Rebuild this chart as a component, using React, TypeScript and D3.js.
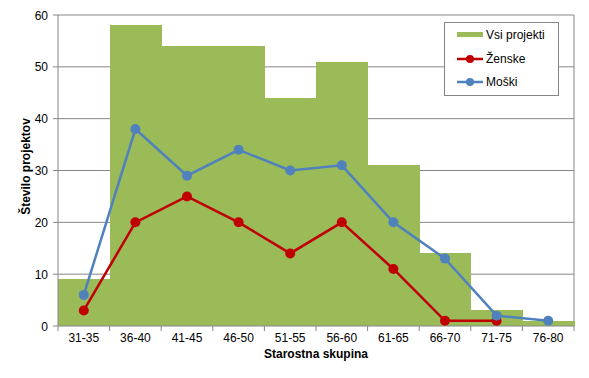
import React from "react";
import * as d3 from "d3";

const categories = ["31-35", "36-40", "41-45", "46-50", "51-55", "56-60", "61-65", "66-70", "71-75", "76-80"];
const vsi = [9, 58, 54, 54, 44, 51, 31, 14, 3, 1];
const zenske: (number | null)[] = [3, 20, 25, 20, 14, 20, 11, 1, 1, null];
const moski = [6, 38, 29, 34, 30, 31, 20, 13, 2, 1];
const yTicks = [0, 10, 20, 30, 40, 50, 60];

const W = 589, H = 378;
const L = 58, R = 574, T = 15, B = 326;
const font = "'Liberation Sans', Arial, sans-serif";

export default function App() {
  const x = d3.scaleBand<string>().domain(categories).range([L, R]).padding(0);
  const y = d3.scaleLinear().domain([0, 60]).range([B, T]);
  const cx = (c: string) => (x(c) as number) + x.bandwidth() / 2;
  const line = d3
    .line<number | null>()
    .defined((d) => d != null)
    .x((_, i) => cx(categories[i]))
    .y((d) => y(d as number));
  const green = "#9BBB59", red = "#C00000", blue = "#4F81BD", grid = "#868686";
  return (
    <svg width={W} height={H} style={{ position: "absolute", left: 0, top: 0 }}>
      <rect x={0} y={0} width={W} height={H} fill="#fff" />
      {yTicks.map((t) => (
        <g key={t}>
          {t > 0 && <line x1={L} x2={R} y1={y(t)} y2={y(t)} stroke={grid} strokeWidth={1} />}
          <line x1={L - 5} x2={L} y1={y(t)} y2={y(t)} stroke={grid} />
          <text x={L - 10} y={y(t) + 4.5} fontSize={12} textAnchor="end" fontFamily={font} fill="#000">{t}</text>
        </g>
      ))}
      <line x1={R} x2={R} y1={T} y2={B} stroke={grid} />
      <g shapeRendering="crispEdges">
        {categories.map((c, i) => (
          <rect key={c} x={x(c)} y={y(vsi[i])} width={x.bandwidth() + 0.5} height={B - y(vsi[i])} fill={green} />
        ))}
      </g>
      <line x1={L} x2={L} y1={T} y2={B} stroke={grid} />
      <line x1={L} x2={R} y1={B} y2={B} stroke={grid} />
      {categories.map((c, i) => (
        <line key={"t" + i} x1={x(c)} x2={x(c)} y1={B} y2={B + 5} stroke={grid} />
      ))}
      <line x1={R} x2={R} y1={B} y2={B + 5} stroke={grid} />
      {categories.map((c) => (
        <text key={"l" + c} x={cx(c)} y={B + 16} fontSize={12} textAnchor="middle" fontFamily={font}>{c}</text>
      ))}
      <path d={line(zenske) || ""} fill="none" stroke={red} strokeWidth={2.5} />
      {zenske.map((v, i) => v != null && <circle key={"z" + i} cx={cx(categories[i])} cy={y(v)} r={5} fill={red} />)}
      <path d={line(moski) || ""} fill="none" stroke={blue} strokeWidth={2.5} />
      {moski.map((v, i) => <circle key={"m" + i} cx={cx(categories[i])} cy={y(v)} r={5} fill={blue} />)}
      <text x={(L + R) / 2} y={358} fontSize={12} fontWeight="bold" textAnchor="middle" fontFamily={font}>Starostna skupina</text>
      <text transform={`translate(30,${(T + B) / 2 - 4}) rotate(-90)`} fontSize={12} fontWeight="bold" textAnchor="middle" fontFamily={font}>Število projektov</text>
      <g>
        <rect x={444.5} y={22.5} width={114} height={73} fill="#fff" stroke={grid} />
        <rect x={457} y={32} width={26} height={5} fill={green} />
        <text x={486} y={39} fontSize={12} fontFamily={font}>Vsi projekti</text>
        <line x1={457} x2={483} y1={59} y2={59} stroke={red} strokeWidth={2.5} />
        <circle cx={470} cy={59} r={4} fill={red} />
        <text x={486} y={63} fontSize={12} fontFamily={font}>Ženske</text>
        <line x1={457} x2={483} y1={82} y2={82} stroke={blue} strokeWidth={2.5} />
        <circle cx={470} cy={82} r={4} fill={blue} />
        <text x={486} y={86} fontSize={12} fontFamily={font}>Moški</text>
      </g>
    </svg>
  );
}
